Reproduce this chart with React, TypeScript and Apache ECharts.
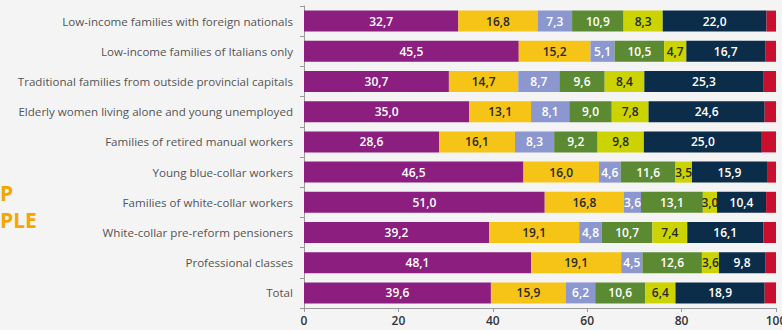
import React, { useEffect, useRef } from "react";
import * as echarts from "echarts";

const categories = [
  "Low-income families with foreign nationals",
  "Low-income families of Italians only",
  "Traditional families from outside provincial capitals",
  "Elderly women living alone and young unemployed",
  "Families of retired manual workers",
  "Young blue-collar workers",
  "Families of white-collar workers",
  "White-collar pre-reform pensioners",
  "Professional classes",
  "Total",
];

const s1 = [32.7, 45.5, 30.7, 35.0, 28.6, 46.5, 51.0, 39.2, 48.1, 39.6];
const s2 = [16.8, 15.2, 14.7, 13.1, 16.1, 16.0, 16.8, 19.1, 19.1, 15.9];
const s3 = [7.3, 5.1, 8.7, 8.1, 8.3, 4.6, 3.6, 4.8, 4.5, 6.2];
const s4 = [10.9, 10.5, 9.6, 9.0, 9.2, 11.6, 13.1, 10.7, 12.6, 10.6];
const s5 = [8.3, 4.7, 8.4, 7.8, 9.8, 3.5, 3.0, 7.4, 3.6, 6.4];
const s6 = [22.0, 16.7, 25.3, 24.6, 25.0, 15.9, 10.4, 16.1, 9.8, 18.9];
const s7 = [2.0, 2.3, 2.6, 2.4, 3.0, 1.9, 2.1, 2.7, 2.3, 2.4];

const xTicks = { min: 0, max: 100, interval: 20 };

const seriesDefs = [
  { name: "s1", data: s1, color: "#8b1e7f", text: "#ffffff", label: true },
  { name: "s2", data: s2, color: "#f6c317", text: "#2a2a2a", label: true },
  { name: "s3", data: s3, color: "#8c97cf", text: "#ffffff", label: true },
  { name: "s4", data: s4, color: "#5b8a32", text: "#ffffff", label: true },
  { name: "s5", data: s5, color: "#cbd400", text: "#2a2a2a", label: true },
  { name: "s6", data: s6, color: "#0c2d49", text: "#ffffff", label: true },
  { name: "s7", data: s7, color: "#c8102e", text: "#ffffff", label: false },
];

export default function App() {
  const ref = useRef<HTMLDivElement>(null);
  useEffect(() => {
    document.body.style.margin = "0";
    if (!ref.current) return;
    const chart = echarts.init(ref.current, null, { renderer: "svg" });
    chart.setOption({
      animation: false,
      backgroundColor: "#f4f4f4",
      grid: {
        left: 304,
        right: 6,
        top: 6,
        bottom: 22,
        containLabel: false,
        outerBoundsMode: "none",
      },
      xAxis: {
        type: "value",
        min: xTicks.min,
        max: xTicks.max,
        interval: xTicks.interval,
        splitLine: { show: false },
        axisLine: { show: true, lineStyle: { color: "#9a9a9a", width: 1 } },
        axisTick: { show: true, length: 4, lineStyle: { color: "#9a9a9a" } },
        axisLabel: {
          color: "#333",
          fontSize: 12,
          fontFamily: "Open Sans",
          fontWeight: 600,
          margin: 6,
        },
      },
      yAxis: {
        type: "category",
        inverse: true,
        data: categories,
        axisLine: { show: true, lineStyle: { color: "#9a9a9a", width: 1 } },
        axisTick: { show: true, length: 4, lineStyle: { color: "#9a9a9a" } },
        axisLabel: {
          color: "#555",
          fontSize: 11.6,
          fontFamily: "Open Sans",
          margin: 11,
        },
      },
      graphic: [
        {
          type: "text",
          left: 0,
          top: 182,
          style: {
            text: "P",
            fill: "#f5a700",
            font: "bold 21px 'Open Sans'",
          },
        },
        {
          type: "text",
          left: 0,
          top: 209,
          style: {
            text: "PLE",
            fill: "#f5a700",
            font: "bold 21px 'Open Sans'",
          },
        },
      ],
      series: seriesDefs.map((s) => ({
        name: s.name,
        type: "bar",
        stack: "total",
        barWidth: 21,
        data: s.data,
        itemStyle: { color: s.color },
        label: {
          show: s.label,
          position: "inside",
          color: s.text,
          fontSize: 12,
          fontFamily: "Open Sans",
          fontWeight: 600,
          formatter: (p: any) => Number(p.value).toFixed(1).replace(".", ","),
        },
      })),
    });
    return () => chart.dispose();
  }, []);
  return <div ref={ref} style={{ width: 782, height: 330 }} />;
}
